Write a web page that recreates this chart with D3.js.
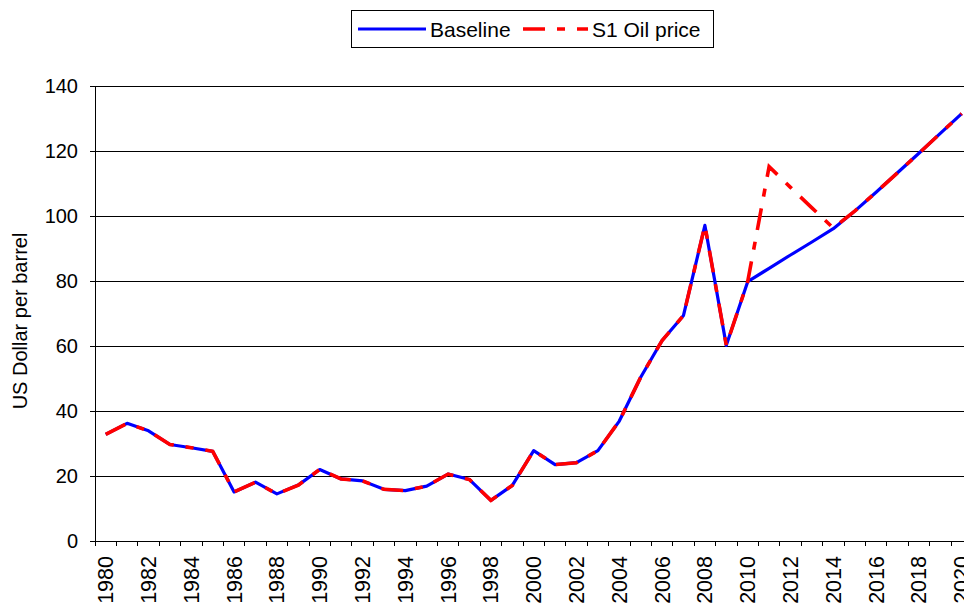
<!DOCTYPE html>
<html>
<head>
<meta charset="utf-8">
<script src="https://cdn.jsdelivr.net/npm/d3@7"></script>
<style>
  body { margin: 0; background: #fff; }
  text { font-family: "Liberation Sans", Arial, sans-serif; fill: #000; }
</style>
</head>
<body>
<svg id="chart"></svg>
<script>
const years = d3.range(1980, 2021);

const baseline = [
  32.8, 36.2, 33.9, 29.7, 28.7, 27.6, 15.1, 18.1, 14.5, 17.2,
  22.0, 19.1, 18.5, 15.9, 15.5, 16.9, 20.6, 18.9, 12.5, 17.1,
  27.8, 23.5, 24.1, 27.8, 36.9, 50.4, 61.7, 69.4, 97.1, 60.2,
  79.8, 83.9, 88.0, 92.0, 96.1, 101.5, 107.3, 113.3, 119.3, 125.4,
  131.5
];

const s1OilPrice = [
  32.8, 36.2, 33.9, 29.7, 28.7, 27.6, 15.1, 18.1, 14.5, 17.2,
  22.0, 19.1, 18.5, 15.9, 15.5, 16.9, 20.6, 18.9, 12.5, 17.1,
  27.8, 23.5, 24.1, 27.8, 36.9, 50.4, 61.7, 69.4, 97.1, 60.2,
  79.8, 115.2, 108.8, 102.5, 96.3, 101.5, 107.3, 113.3, 119.3, 125.4,
  131.5
];

const yTicks = [0, 20, 40, 60, 80, 100, 120, 140];
const xLabels = years.filter(y => y % 2 === 0);

const svgWidth = 964;
const svgHeight = 603;
const plotLeft = 95, plotTop = 86, plotBottom = 541, step = 21.4;

const svg = d3.select("#chart")
  .attr("width", svgWidth)
  .attr("height", svgHeight);

const xScale = d3.scaleBand()
  .domain(years)
  .range([plotLeft, plotLeft + step * years.length])
  .padding(0);

const yScale = d3.scaleLinear()
  .domain([0, 140])
  .range([plotBottom, plotTop]);

const cx = yr => xScale(yr) + xScale.bandwidth() / 2;

// gridlines
svg.append("g")
  .attr("shape-rendering", "crispEdges")
  .selectAll("line")
  .data(yTicks.filter(d => d > 0))
  .enter()
  .append("line")
  .attr("x1", plotLeft)
  .attr("x2", svgWidth)
  .attr("y1", d => yScale(d) + 0.5)
  .attr("y2", d => yScale(d) + 0.5)
  .attr("stroke", "#000")
  .attr("stroke-width", 1);

// y axis
const yAxis = d3.axisLeft(yScale)
  .tickValues(yTicks)
  .tickSize(5)
  .tickSizeOuter(0)
  .tickPadding(12);

const gy = svg.append("g")
  .attr("transform", `translate(${plotLeft}, 0)`)
  .attr("shape-rendering", "crispEdges")
  .call(yAxis);
gy.select(".domain").attr("stroke", "#000");
gy.selectAll(".tick line").attr("stroke", "#000");
gy.selectAll("text").style("font-size", "20px");

// x axis
const xAxis = d3.axisBottom(xScale)
  .tickValues(xLabels)
  .tickSize(0)
  .tickSizeOuter(0);

const gx = svg.append("g")
  .attr("transform", `translate(0, ${plotBottom})`)
  .attr("shape-rendering", "crispEdges")
  .call(xAxis);
gx.select(".domain").attr("d", `M${plotLeft},0.5H${svgWidth}`).attr("stroke", "#000");
gx.selectAll("text")
  .style("font-size", "21.5px")
  .attr("text-anchor", "end")
  .attr("transform", "rotate(-90)")
  .attr("x", -15)
  .attr("y", 0)
  .attr("dy", ".35em");

// category boundary tick marks
gx.append("g")
  .selectAll("line")
  .data(years)
  .enter()
  .append("line")
  .attr("x1", d => xScale(d))
  .attr("x2", d => xScale(d))
  .attr("y1", 0)
  .attr("y2", 5)
  .attr("stroke", "#000");

// axis title
svg.append("text")
  .attr("transform", "translate(27, 321) rotate(-90)")
  .attr("text-anchor", "middle")
  .style("font-size", "20px")
  .text("US Dollar per barrel");

// lines
const line = d3.line()
  .x((d, i) => cx(years[i]))
  .y(d => yScale(d));

svg.append("path")
  .datum(baseline)
  .attr("fill", "none")
  .attr("stroke", "#0000ff")
  .attr("stroke-width", 3.2)
  .attr("stroke-linejoin", "round")
  .attr("d", line);

svg.append("path")
  .datum(s1OilPrice)
  .attr("fill", "none")
  .attr("stroke", "#ff0000")
  .attr("stroke-width", 3.6)
  .attr("stroke-dasharray", "22,12,8,12")
  .attr("d", line);

// legend
const legend = svg.append("g");
legend.append("rect")
  .attr("x", 351.5).attr("y", 10.5)
  .attr("width", 362).attr("height", 37)
  .attr("fill", "#fff").attr("stroke", "#000").attr("stroke-width", 1);
legend.append("line")
  .attr("x1", 358).attr("x2", 426).attr("y1", 29).attr("y2", 29)
  .attr("stroke", "#0000ff").attr("stroke-width", 3.2);
legend.append("text")
  .attr("x", 430).attr("y", 36.5)
  .style("font-size", "21px")
  .text("Baseline");
legend.append("line")
  .attr("x1", 523).attr("x2", 588).attr("y1", 29).attr("y2", 29)
  .attr("stroke", "#ff0000").attr("stroke-width", 3.6)
  .attr("stroke-dasharray", "22,12,8,12");
legend.append("text")
  .attr("x", 592).attr("y", 36.5)
  .style("font-size", "21px")
  .text("S1 Oil price");
</script>
</body>
</html>
